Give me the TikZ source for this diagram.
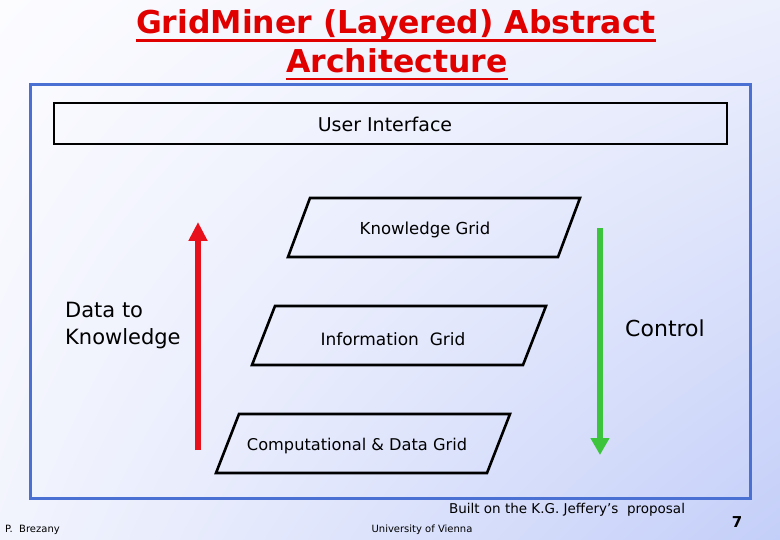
\documentclass[tikz,border=0pt]{standalone}
\usepackage{fontspec}
\setmainfont{DejaVu Sans}
\usetikzlibrary{arrows.meta,shadings}
\definecolor{titlered}{RGB}{224,0,0}
\definecolor{arrred}{RGB}{232,16,26}
\definecolor{arrgreen}{RGB}{60,196,60}
\definecolor{frameblue}{RGB}{74,112,212}
\definecolor{bgTL}{RGB}{252,252,255}
\definecolor{bgTR}{RGB}{236,239,252}
\definecolor{bgBL}{RGB}{242,244,253}
\definecolor{bgBR}{RGB}{196,207,249}
\tikzset{
  lbl/.style={inner sep=0pt, text=black},
  layer/.style={draw=black, line width=2.6pt, line join=miter},
  titletxt/.style={inner sep=0pt, anchor=base, text=titlered, font=\bfseries\fontsize{31.5}{34}\selectfont},
  uline/.style={draw=titlered, line width=2.6pt},
  flow/.style={line width=6pt}
}
\begin{document}
\begin{tikzpicture}[x=1pt,y=-1pt]
\useasboundingbox (0,0) rectangle (780,540);
\shade[upper left=bgTL, upper right=bgTR, lower left=bgBL, lower right=bgBR] (0,0) rectangle (780,540);

% title
\node[titletxt] (t1) at (396,34) {GridMiner (Layered) Abstract};
\node[titletxt] (t2) at (397,73) {Architecture};
\draw[uline] ([yshift=-6.5pt]t1.base west) -- ([yshift=-6.5pt]t1.base east);
\draw[uline] ([yshift=-6pt]t2.base west) -- ([yshift=-6pt]t2.base east);

% frame
\draw[frameblue, line width=3pt] (30,85) rectangle (750,498);

% user interface
\draw[layer] (54,103) rectangle (727,144);
\node[lbl, font=\fontsize{19}{22}\selectfont] (ui) at (385,124) {User Interface};

% knowledge grid
\draw[layer] (310,198) -- (580,198) -- (558,257) -- (288,257) -- cycle;
\node[lbl, font=\fontsize{16.5}{19}\selectfont] (kg) at (425,230) {Knowledge Grid};

% information grid
\draw[layer] (275,306) -- (546,306) -- (523,365) -- (252,365) -- cycle;
\node[lbl, font=\fontsize{17}{20}\selectfont] (ig) at (393,339) {Information\ \ Grid};

% computational grid
\draw[layer] (239,414) -- (510,414) -- (487,473) -- (216,473) -- cycle;
\node[lbl, font=\fontsize{16.2}{19}\selectfont] (cg) at (357,446) {Computational \& Data Grid};

% arrows
\coordinate (rs) at (198,450);
\coordinate (re) at (198,222);
\draw[flow, arrred, -{Triangle[width=18pt,length=19pt]}] (rs) -- (re);
\coordinate (gs) at (600,228);
\coordinate (ge) at (600,455);
\draw[flow, arrgreen, -{Triangle[width=18pt,length=17pt]}] (gs) -- (ge);

\node[lbl, align=left, anchor=west, font=\fontsize{21}{27}\selectfont] (dk) at (65,326) {Data to\\Knowledge};
\node[lbl, font=\fontsize{22}{25}\selectfont] (ctl) at (665,328) {Control};

% footer
\node[lbl, font=\fontsize{13.5}{16}\selectfont] (built) at (567,510) {Built on the K.G. Jeffery’s\ \ proposal};
\node[lbl, anchor=west, font=\fontsize{10}{12}\selectfont] (pb) at (5,530) {P.\ \ Brezany};
\node[lbl, font=\fontsize{10}{12}\selectfont] (uv) at (422,530) {University of Vienna};
\node[lbl, font=\bfseries\fontsize{15}{18}\selectfont] (pg) at (737,522) {7};
\end{tikzpicture}
\end{document}
